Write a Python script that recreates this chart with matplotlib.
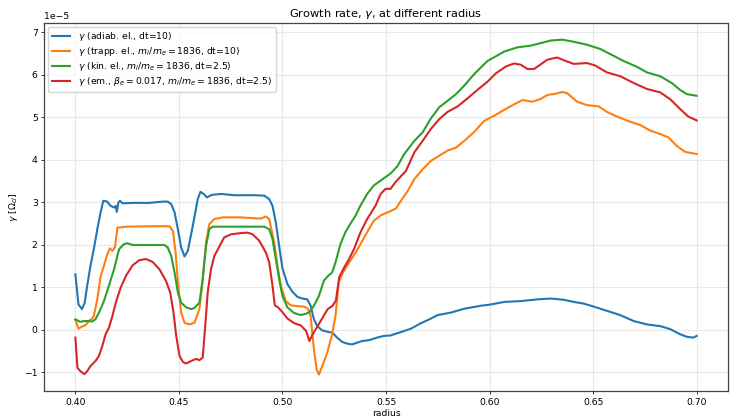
import numpy as np
import matplotlib
matplotlib.use("Agg")
import matplotlib.pyplot as plt

# ---- data (values in units of 1e-5) ----
r_adiab = [0.400, 0.4015, 0.4032, 0.4045, 0.4057, 0.4073, 0.4089, 0.4106, 0.4122, 0.4135,
           0.4154, 0.4170, 0.4187, 0.4195, 0.4200, 0.4208, 0.4216, 0.4227, 0.4276, 0.4357,
           0.4422, 0.4446, 0.4463, 0.4479, 0.4495, 0.4511, 0.4527, 0.4543, 0.4567, 0.4591,
           0.4604, 0.4620, 0.4635, 0.4660, 0.4704, 0.4768, 0.4864, 0.4912, 0.4936, 0.4952,
           0.4968, 0.4984, 0.5000, 0.5024, 0.5048, 0.5072, 0.5096, 0.5120, 0.5136, 0.5152,
           0.5168, 0.5192, 0.5224, 0.5240, 0.5264, 0.5288, 0.5312, 0.5336, 0.5360, 0.5385,
           0.5417, 0.5457, 0.5489, 0.5521, 0.5572, 0.5620, 0.5669, 0.5709, 0.5749, 0.5814,
           0.5878, 0.5958, 0.6006, 0.6071, 0.6151, 0.6232, 0.6295, 0.6359, 0.6407, 0.6455,
           0.6503, 0.6567, 0.6631, 0.6696, 0.6760, 0.6824, 0.6872, 0.6920, 0.6952, 0.6984,
           0.7000]
g_adiab = [1.31, 0.60, 0.49, 0.64, 1.04, 1.51, 1.90, 2.37, 2.77, 3.04,
           3.02, 2.92, 2.88, 2.92, 2.78, 3.00, 3.04, 2.98, 2.99, 2.99,
           3.02, 3.02, 2.96, 2.77, 2.37, 1.94, 1.73, 1.86, 2.45, 3.08,
           3.25, 3.20, 3.12, 3.18, 3.20, 3.17, 3.17, 3.16, 3.08, 2.92,
           2.53, 1.98, 1.45, 1.08, 0.90, 0.78, 0.74, 0.72, 0.57, 0.25,
           0.09, -0.01, -0.05, -0.06, -0.18, -0.28, -0.32, -0.34, -0.30, -0.26,
           -0.24, -0.18, -0.14, -0.13, -0.05, 0.03, 0.16, 0.25, 0.35, 0.41,
           0.50, 0.57, 0.60, 0.66, 0.68, 0.72, 0.74, 0.71, 0.66, 0.62,
           0.55, 0.45, 0.35, 0.21, 0.13, 0.09, 0.02, -0.10, -0.16, -0.18,
           -0.14]

r_trapp = [0.400, 0.4015, 0.4032, 0.4048, 0.4065, 0.4081, 0.4089, 0.4106, 0.4122, 0.4138,
           0.4154, 0.4167, 0.4179, 0.4191, 0.4203, 0.4211, 0.4244, 0.4357, 0.4455, 0.4471,
           0.4484, 0.4495, 0.4511, 0.4527, 0.4551, 0.4575, 0.4599, 0.4615, 0.4631, 0.4647,
           0.4671, 0.4712, 0.4792, 0.4896, 0.4920, 0.4936, 0.4960, 0.4976, 0.4992, 0.5016,
           0.5040, 0.5072, 0.5104, 0.5123, 0.5136, 0.5152, 0.5165, 0.5176, 0.5192, 0.5216,
           0.5240, 0.5256, 0.5272, 0.5288, 0.5312, 0.5344, 0.5377, 0.5409, 0.5441, 0.5476,
           0.5524, 0.5548, 0.5572, 0.5605, 0.5637, 0.5677, 0.5717, 0.5757, 0.5797, 0.5838,
           0.5878, 0.5926, 0.5974, 0.6022, 0.6071, 0.6119, 0.6159, 0.6207, 0.6248, 0.6280,
           0.6310, 0.6351, 0.6375, 0.6423, 0.6471, 0.6527, 0.6567, 0.6615, 0.6679, 0.6728,
           0.6776, 0.6824, 0.6864, 0.6904, 0.6944, 0.7000]
g_trapp = [0.24, 0.03, 0.08, 0.11, 0.21, 0.27, 0.33, 0.72, 1.27, 1.51,
           1.78, 1.92, 1.86, 1.94, 2.41, 2.41, 2.43, 2.44, 2.44, 2.33,
           1.82, 1.12, 0.41, 0.17, 0.13, 0.17, 0.49, 1.20, 2.06, 2.49,
           2.61, 2.65, 2.65, 2.62, 2.67, 2.61, 2.06, 1.51, 1.04, 0.68,
           0.58, 0.56, 0.55, 0.50, 0.33, -0.46, -0.93, -1.05, -0.85, -0.54,
           -0.10, 0.33, 1.12, 1.31, 1.51, 1.75, 2.02, 2.30, 2.57, 2.70,
           2.80, 2.86, 3.04, 3.27, 3.55, 3.78, 3.98, 4.10, 4.22, 4.29,
           4.45, 4.66, 4.92, 5.04, 5.18, 5.31, 5.41, 5.37, 5.44, 5.53,
           5.55, 5.60, 5.57, 5.37, 5.29, 5.26, 5.13, 5.02, 4.90, 4.82,
           4.69, 4.61, 4.53, 4.33, 4.19, 4.14]

r_kin = [0.400, 0.4024, 0.4040, 0.4057, 0.4081, 0.4097, 0.4114, 0.4138, 0.4162, 0.4187,
         0.4211, 0.4235, 0.4252, 0.4276, 0.4357, 0.4430, 0.4446, 0.4463, 0.4479, 0.4495,
         0.4511, 0.4536, 0.4560, 0.4575, 0.4599, 0.4615, 0.4631, 0.4647, 0.4663, 0.4740,
         0.4912, 0.4936, 0.4952, 0.4968, 0.4984, 0.5000, 0.5024, 0.5056, 0.5088, 0.5112,
         0.5128, 0.5152, 0.5176, 0.5200, 0.5224, 0.5240, 0.5256, 0.5280, 0.5304, 0.5328,
         0.5353, 0.5377, 0.5409, 0.5441, 0.5476, 0.5524, 0.5556, 0.5588, 0.5637, 0.5677,
         0.5717, 0.5757, 0.5797, 0.5838, 0.5878, 0.5926, 0.5990, 0.6031, 0.6071, 0.6135,
         0.6199, 0.6248, 0.6295, 0.6351, 0.6407, 0.6471, 0.6535, 0.6583, 0.6647, 0.6712,
         0.6760, 0.6824, 0.6880, 0.6920, 0.6952, 0.7000]
g_kin = [0.25, 0.19, 0.21, 0.21, 0.20, 0.25, 0.41, 0.68, 1.04, 1.43,
         1.90, 2.02, 2.04, 2.00, 2.00, 2.00, 1.94, 1.74, 1.35, 0.88,
         0.64, 0.53, 0.49, 0.52, 0.64, 1.20, 1.98, 2.37, 2.43, 2.43,
         2.43, 2.37, 2.14, 1.67, 1.20, 0.80, 0.53, 0.40, 0.35, 0.38,
         0.41, 0.57, 0.80, 1.16, 1.29, 1.35, 1.59, 2.02, 2.30, 2.50,
         2.69, 2.93, 3.20, 3.40, 3.52, 3.69, 3.86, 4.14, 4.45, 4.65,
         4.98, 5.24, 5.39, 5.55, 5.75, 6.02, 6.33, 6.44, 6.55, 6.65,
         6.69, 6.75, 6.81, 6.83, 6.78, 6.71, 6.61, 6.49, 6.33, 6.19,
         6.06, 5.97, 5.81, 5.65, 5.55, 5.51]

r_em = [0.400, 0.4010, 0.4024, 0.4044, 0.4057, 0.4073, 0.4097, 0.4114, 0.4130, 0.4146,
        0.4162, 0.4179, 0.4195, 0.4219, 0.4244, 0.4276, 0.4308, 0.4341, 0.4373, 0.4406,
        0.4438, 0.4458, 0.4474, 0.4487, 0.4503, 0.4519, 0.4535, 0.4559, 0.4583, 0.4599,
        0.4615, 0.4627, 0.4639, 0.4655, 0.4671, 0.4695, 0.4719, 0.4752, 0.4800, 0.4832,
        0.4856, 0.4888, 0.4920, 0.4936, 0.4952, 0.4963, 0.4979, 0.5000, 0.5024, 0.5056,
        0.5088, 0.5114, 0.5130, 0.5146, 0.5170, 0.5194, 0.5218, 0.5242, 0.5258, 0.5274,
        0.5298, 0.5322, 0.5346, 0.5377, 0.5409, 0.5450, 0.5474, 0.5498, 0.5522, 0.5546,
        0.5569, 0.5596, 0.5637, 0.5677, 0.5717, 0.5757, 0.5797, 0.5846, 0.5894, 0.5942,
        0.5990, 0.6031, 0.6079, 0.6119, 0.6151, 0.6183, 0.6215, 0.6256, 0.6279, 0.6327,
        0.6367, 0.6407, 0.6471, 0.6511, 0.6567, 0.6631, 0.6696, 0.6760, 0.6824, 0.6872,
        0.6920, 0.6960, 0.7000]
g_em = [-0.18, -0.89, -0.97, -1.04, -0.97, -0.85, -0.73, -0.61, -0.38, -0.10,
        0.05, 0.33, 0.64, 1.00, 1.27, 1.52, 1.64, 1.67, 1.60, 1.43,
        1.15, 0.88, 0.41, -0.14, -0.61, -0.75, -0.79, -0.73, -0.68, -0.71,
        -0.65, 0.09, 0.88, 1.43, 1.74, 1.96, 2.18, 2.25, 2.28, 2.29,
        2.25, 2.10, 1.82, 1.59, 1.04, 0.58, 0.53, 0.42, 0.27, 0.16,
        0.11, -0.02, -0.26, -0.10, 0.09, 0.29, 0.49, 0.57, 0.69, 1.24,
        1.47, 1.67, 1.91, 2.30, 2.61, 2.93, 3.20, 3.32, 3.32, 3.48,
        3.60, 3.74, 4.18, 4.45, 4.73, 4.96, 5.13, 5.26, 5.45, 5.65,
        5.84, 6.04, 6.20, 6.27, 6.24, 6.14, 6.14, 6.28, 6.36, 6.41,
        6.33, 6.26, 6.28, 6.22, 6.06, 5.97, 5.81, 5.67, 5.59, 5.43,
        5.20, 5.02, 4.93]

labels = [r"$\gamma$ (adiab. el., dt=10)",
          r"$\gamma$ (trapp. el., $m_i/m_e = 1836$, dt=10)",
          r"$\gamma$ (kin. el., $m_i/m_e = 1836$, dt=2.5)",
          r"$\gamma$ (em., $\beta_e = 0.017$, $m_i/m_e = 1836$, dt=2.5)"]

s = 0.68
plt.rcParams.update({
    'font.size': 6.7,
    'xtick.major.size': 3.5 * s, 'ytick.major.size': 3.5 * s,
    'xtick.major.pad': 3.5 * s, 'ytick.major.pad': 3.5 * s,
    'xtick.major.width': 0.8 * s, 'ytick.major.width': 0.8 * s,
    'axes.labelpad': 4.0 * s,
    'axes.titlepad': 6.0 * s,
    'axes.linewidth': 0.9,
})

fig = plt.figure(figsize=(7.31, 4.19), dpi=100)
ax = fig.add_axes([0.0606, 0.0660, 0.9349, 0.8793])

series = [(r_adiab, g_adiab), (r_trapp, g_trapp), (r_kin, g_kin), (r_em, g_em)]
colors = ['#1f77b4', '#ff7f0e', '#2ca02c', '#d62728']
for (r, g), lab, c in zip(series, labels, colors):
    ax.plot(r, np.array(g) * 1e-5, color=c, lw=1.5, label=lab)

ax.set_xticks([0.40, 0.45, 0.50, 0.55, 0.60, 0.65, 0.70])
ax.grid(True, color='#e8e8e8', lw=0.8)
ax.set_axisbelow(True)
ax.set_title(r"Growth rate, $\gamma$, at different radius", fontsize=8.2)
ax.set_xlabel("radius", labelpad=1.2)
ax.set_ylabel(r"$\gamma$ [$\Omega_{ci}$]")
ax.legend(loc='upper left', labelspacing=0.2, borderaxespad=0.4)
for sp in ax.spines.values():
    sp.set_color('#444444')

fig.savefig("out.png", dpi=100)
